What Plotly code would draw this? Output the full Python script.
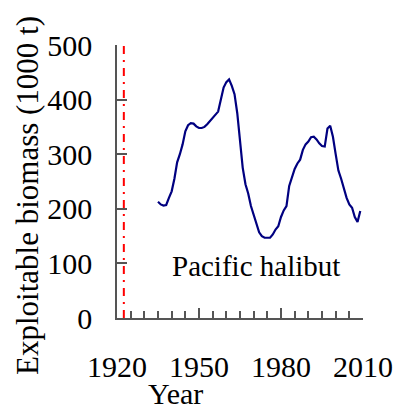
import plotly.graph_objects as go

years = list(range(1935, 2010))
biomass = [213, 208, 206, 207, 220, 232, 255, 285, 300, 318,
           342, 353, 357, 356, 351, 348, 348, 350, 355, 361,
           366, 372, 378, 400, 422, 432, 437, 425, 410, 375,
           330, 275, 245, 228, 205, 188, 172, 157, 150, 147,
           147, 147, 153, 162, 168, 185, 197, 205, 242, 258,
           273, 283, 290, 308, 318, 323, 331, 332, 327, 320,
           315, 314, 347, 352, 332, 300, 270, 255, 238, 220,
           208, 202, 185, 176, 196]
ref_year = 1922.5
x_ticks = [1920, 1950, 1980, 2010]
y_ticks = [0, 100, 200, 300, 400, 500]

FONT = "Liberation Serif"

fig = go.Figure()
fig.add_trace(go.Scatter(x=years, y=biomass, mode="lines",
                         line=dict(color="#000080", width=2.2),
                         hoverinfo="skip", showlegend=False))

fig.add_shape(type="line", xref="x", yref="y", x0=ref_year, x1=ref_year, y0=0, y1=500,
              line=dict(color="#ff0000", width=2, dash="8px,6px,2px,6px"))

fig.update_layout(
    width=396, height=406,
    margin=dict(l=117, r=33, t=45, b=88, autoexpand=False),
    paper_bgcolor="white", plot_bgcolor="white",
    font=dict(family=FONT, size=30, color="black"),
    xaxis=dict(range=[1920, 2010], tickvals=x_ticks, ticks="inside", ticklen=10,
               tickwidth=1.5, tickcolor="#555", showline=True, linecolor="#555",
               linewidth=1.5, showgrid=False, zeroline=False, ticklabelstandoff=21,
               automargin=False,
               minor=dict(dtick=5, tick0=1920, ticks="inside", ticklen=7,
                          tickwidth=1.5, tickcolor="#555", showgrid=False),
               tickfont=dict(family=FONT, size=30, color="black")),
    yaxis=dict(range=[0, 500], tickvals=y_ticks, ticks="inside", ticklen=10,
               tickwidth=1.5, tickcolor="#555", showline=True, linecolor="#555",
               linewidth=1.5, showgrid=False, zeroline=False, ticklabelstandoff=17,
               automargin=False,
               tickfont=dict(family=FONT, size=30, color="black")),
    annotations=[
        dict(text="Pacific halibut", xref="paper", yref="paper",
             x=(256 - 117) / 246, y=(318 - 266) / 273, xanchor="center", yanchor="middle",
             showarrow=False, font=dict(family=FONT, size=29, color="black")),
        dict(text="Year", xref="paper", yref="paper",
             x=(175 - 117) / 246, y=(318 - 393) / 273, xanchor="center", yanchor="middle",
             showarrow=False, font=dict(family=FONT, size=30, color="black")),
        dict(text="Exploitable biomass (1000 t)", xref="paper", yref="paper",
             x=(27 - 117) / 246, y=(318 - 196) / 273, xanchor="center", yanchor="middle",
             textangle=-90, showarrow=False, font=dict(family=FONT, size=31, color="black")),
    ],
)

fig.write_html("out.html")
